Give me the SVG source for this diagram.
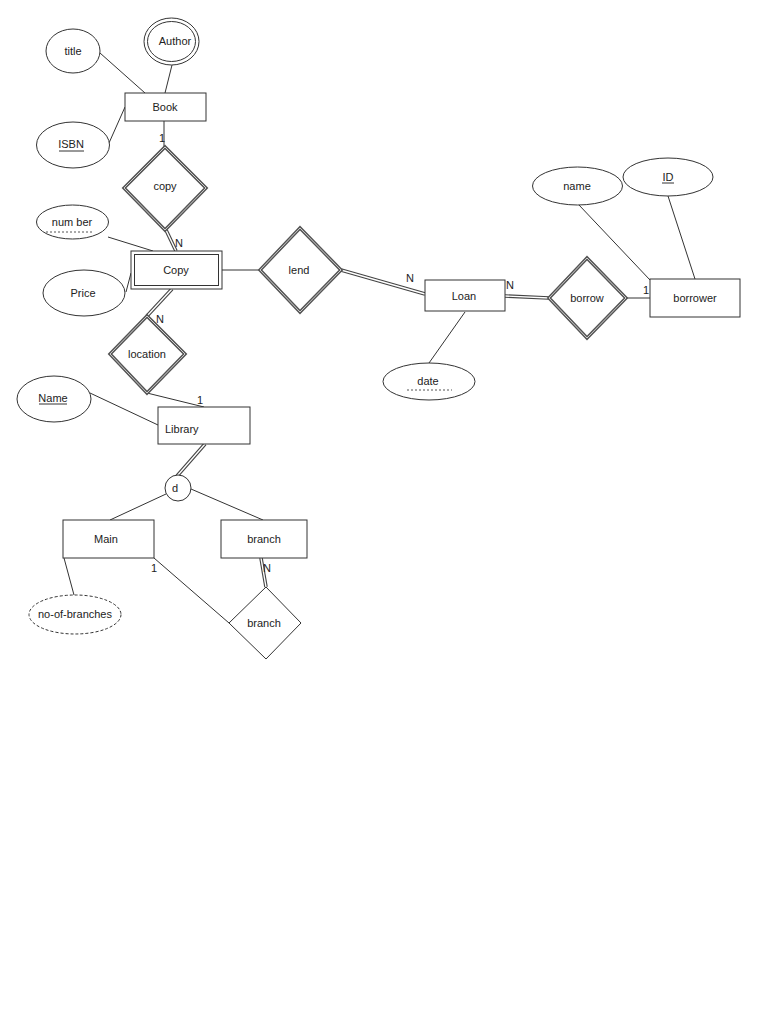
<svg xmlns="http://www.w3.org/2000/svg" width="768" height="1024" viewBox="0 0 768 1024">
<style>
text{font-family:"Liberation Sans",Arial,sans-serif;font-size:11px;fill:#222;text-anchor:middle;dominant-baseline:central}
.l{text-anchor:start}
.e{fill:#fff;stroke:#333;stroke-width:1}
.r{fill:#fff;stroke:#333;stroke-width:1}
.ln{stroke:#333;stroke-width:1;fill:none}
.dbo{stroke:#444;stroke-width:3.6;fill:none}
.dbi{stroke:#fff;stroke-width:1.4;fill:none}
.dd{fill:#fff;stroke:#555;stroke-width:3.4}
.ddi{fill:none;stroke:#ccc;stroke-width:1}
.ul{stroke:#333;stroke-width:1}
.du{stroke:#555;stroke-width:1;stroke-dasharray:2,2}
.lab{font-size:11px}
</style>
<rect width="768" height="1024" fill="#fff"/>
<g id="connectors">
<line class="ln" x1="100" y1="53" x2="145" y2="93"/>
<line class="ln" x1="172" y1="65" x2="165" y2="93"/>
<line class="ln" x1="109" y1="143" x2="125" y2="107"/>
<line class="ln" x1="164" y1="121" x2="164" y2="148"/>
<line class="dbo" x1="166" y1="230" x2="176" y2="251"/>
<line class="dbi" x1="166" y1="230" x2="176" y2="251"/>
<line class="ln" x1="108" y1="237" x2="153" y2="251"/>
<line class="ln" x1="126" y1="292" x2="131" y2="273"/>
<line class="ln" x1="222" y1="270" x2="260" y2="270"/>
<line class="dbo" x1="341" y1="270" x2="425" y2="294"/>
<line class="dbi" x1="341" y1="270" x2="425" y2="294"/>
<line class="ln" x1="465" y1="312" x2="429" y2="363"/>
<line class="dbo" x1="505" y1="296" x2="549" y2="298"/>
<line class="dbi" x1="505" y1="296" x2="549" y2="298"/>
<line class="ln" x1="626" y1="298" x2="650" y2="298"/>
<line class="ln" x1="579" y1="205" x2="650" y2="280"/>
<line class="ln" x1="668" y1="196" x2="695" y2="279"/>
<line class="dbo" x1="172" y1="289" x2="147" y2="316"/>
<line class="dbi" x1="172" y1="289" x2="147" y2="316"/>
<line class="ln" x1="147" y1="393" x2="204" y2="407"/>
<line class="ln" x1="90" y1="393" x2="158" y2="425"/>
<line class="dbo" x1="205" y1="444" x2="177" y2="476"/>
<line class="dbi" x1="205" y1="444" x2="177" y2="476"/>
<line class="ln" x1="166" y1="494" x2="110" y2="520"/>
<line class="ln" x1="191" y1="489" x2="263" y2="520"/>
<line class="ln" x1="64" y1="558" x2="74" y2="595"/>
<line class="ln" x1="154" y1="558" x2="229" y2="623"/>
<line class="dbo" x1="261" y1="558" x2="266" y2="587"/>
<line class="dbi" x1="261" y1="558" x2="266" y2="587"/>
<text x="162" y="138">1</text>
<text x="179" y="243">N</text>
<text x="410" y="278">N</text>
<text x="510" y="285">N</text>
<text x="646" y="290">1</text>
<text x="160" y="319">N</text>
<text x="200" y="400">1</text>
<text x="154" y="568">1</text>
<text x="267" y="568">N</text>
</g>
<g id="title"><ellipse class="e" cx="73" cy="51" rx="27" ry="22"/><text x="73" y="51">title</text></g>
<g id="author"><ellipse class="e" cx="171.5" cy="41.5" rx="27.5" ry="23.5"/><ellipse class="e" cx="171.5" cy="41.5" rx="24" ry="20"/><text x="175" y="41">Author</text></g>
<g id="book"><rect class="r" x="125" y="93" width="81" height="28"/><text x="165" y="107">Book</text></g>
<g id="isbn"><ellipse class="e" cx="73" cy="145" rx="36.5" ry="23"/><text x="71" y="144">ISBN</text><line class="ul" x1="59" y1="151" x2="84" y2="151"/></g>
<g id="copy-rel"><polygon class="dd" points="165,147 206,188 165,230 124,188"/><polygon class="ddi" points="165,147 206,188 165,230 124,188"/><text x="165" y="186">copy</text></g>
<g id="number"><ellipse class="e" cx="72.5" cy="222" rx="36" ry="17"/><text x="72" y="222">num ber</text><line class="du" x1="46" y1="232" x2="92" y2="232"/></g>
<g id="copy-ent"><rect class="r" x="131" y="251" width="91" height="38" stroke-width="1.3"/><rect class="r" x="134.5" y="254.5" width="84" height="31"/><text x="176" y="270">Copy</text></g>
<g id="price"><ellipse class="e" cx="84" cy="293" rx="41" ry="23"/><text x="83" y="293">Price</text></g>
<g id="lend"><polygon class="dd" points="300,228 341,270 300,312 260,270"/><polygon class="ddi" points="300,228 341,270 300,312 260,270"/><text x="299" y="270">lend</text></g>
<g id="loan"><rect class="r" x="425" y="280" width="80" height="31" stroke-width="2"/><text x="464" y="296">Loan</text></g>
<g id="date"><ellipse class="e" cx="429" cy="381.5" rx="46" ry="18.5"/><text x="428" y="381">date</text><line class="du" x1="407" y1="390" x2="452" y2="390"/></g>
<g id="borrow"><polygon class="dd" points="587,258 626,298 587,338 549,298"/><polygon class="ddi" points="587,258 626,298 587,338 549,298"/><text x="587" y="298">borrow</text></g>
<g id="borrower"><rect class="r" x="650" y="279" width="90" height="38"/><text x="695" y="298">borrower</text></g>
<g id="name"><ellipse class="e" cx="577.5" cy="186" rx="45" ry="19"/><text x="577" y="186">name</text></g>
<g id="id"><ellipse class="e" cx="668" cy="177" rx="45" ry="19"/><text x="668" y="177">ID</text><line class="ul" x1="662" y1="183" x2="674" y2="183"/></g>
<g id="location"><polygon class="dd" points="147,316 185,354 147,393 110,354"/><polygon class="ddi" points="147,316 185,354 147,393 110,354"/><text x="147" y="354">location</text></g>
<g id="name2"><ellipse class="e" cx="54" cy="399" rx="37" ry="23"/><text x="53" y="398">Name</text><line class="ul" x1="39" y1="404" x2="67" y2="404"/></g>
<g id="library"><rect class="r" x="158" y="407" width="92" height="37"/><text class="l" x="165" y="429">Library</text></g>
<g id="d"><circle class="e" cx="178" cy="488" r="13"/><text x="175" y="488">d</text></g>
<g id="main"><rect class="r" x="63" y="520" width="91" height="38"/><text x="106" y="539">Main</text></g>
<g id="branch-ent"><rect class="r" x="221" y="520" width="86" height="38"/><text x="264" y="539">branch</text></g>
<g id="noofbranches"><ellipse class="e" cx="75" cy="614.5" rx="46" ry="19.5" stroke-dasharray="3,2"/><text x="75" y="614">no-of-branches</text></g>
<g id="branch-rel"><polygon class="r" points="266,587 301,623 266,659 229,623"/><text x="264" y="623">branch</text></g>
</svg>
